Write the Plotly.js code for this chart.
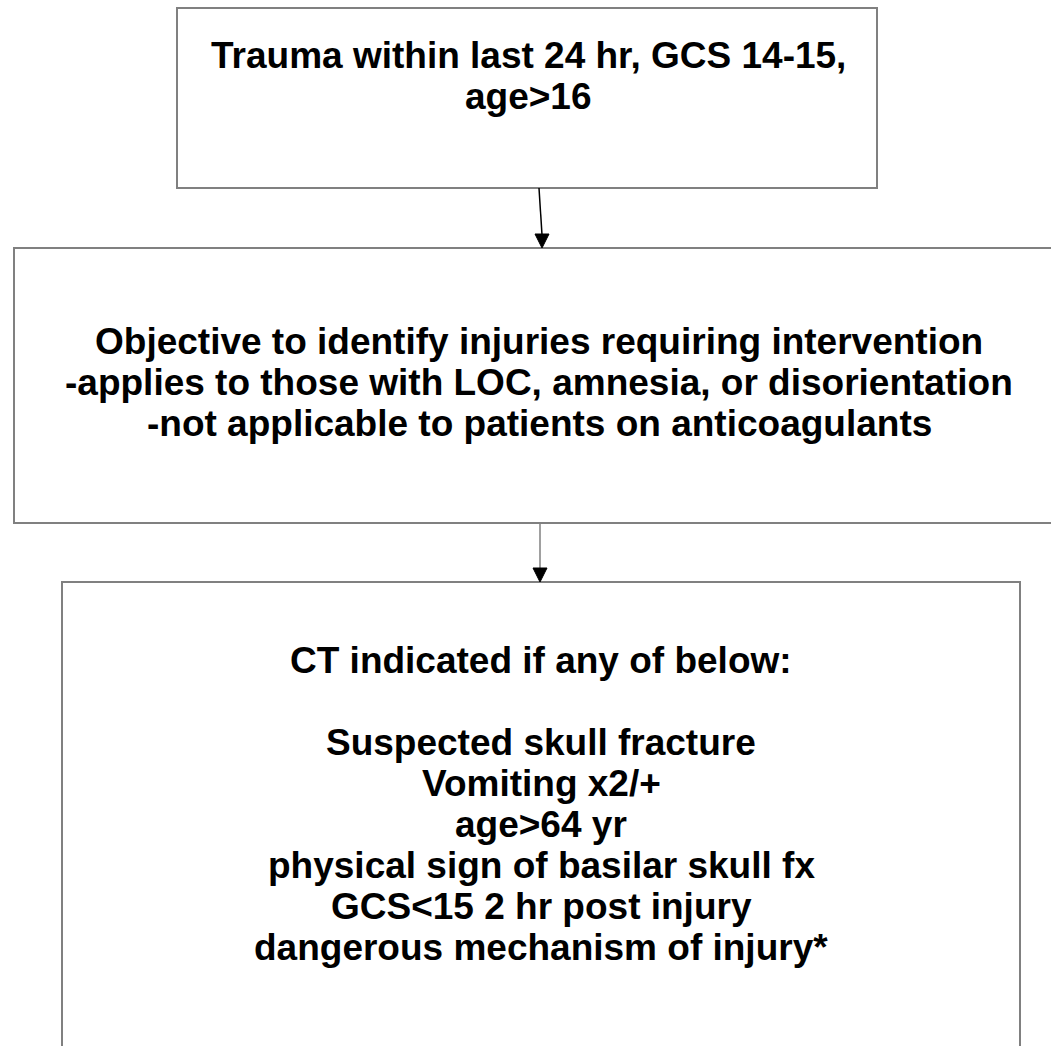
<!DOCTYPE html>
<html><head><meta charset="utf-8">
<script src="https://cdn.plot.ly/plotly-3.0.1.min.js"></script>
<style>html,body{margin:0;padding:0;background:#fff;}#chart{width:1051px;height:1046px;}</style>
</head><body><div id="chart"></div>
<script>
// Flowchart content: text lines of each box
const box1Lines = ["Trauma within last 24 hr, GCS 14-15,", "age&gt;16"];
const box2Lines = ["Objective to identify injuries requiring intervention",
  "-applies to those with LOC, amnesia, or disorientation",
  "-not applicable to patients on anticoagulants"];
const box3Lines = ["CT indicated if any of below:", "", "Suspected skull fracture", "Vomiting x2/+",
  "age&gt;64 yr", "physical sign of basilar skull fx", "GCS&lt;15 2 hr post injury",
  "dangerous mechanism of injury*"];
const boxLines = [box1Lines, box2Lines, box3Lines];

// layout geometry (page pixels)
const boxes = [[177, 8, 877, 188], [14, 248, 1062, 523], [62, 582, 1020, 1062]];
const textCenterX = [528, 539, 541];
const firstLineY = [55, 341, 660];
const lineStep = [41, 41, 41.1];
const arrows = [[539, 188, 542, 248, "#000000"], [540, 523, 540, 582, "#808080"]];

const shapes = [];
boxes.forEach(b => shapes.push({type:'rect', xref:'x', yref:'y', x0:b[0], y0:b[1], x1:b[2], y1:b[3],
  line:{color:'#808080', width:2}, fillcolor:'rgba(0,0,0,0)'}));
const headLen = 14, headHalf = 7;
arrows.forEach(a => {
  const [x0,y0,x1,y1,c] = a;
  shapes.push({type:'line', xref:'x', yref:'y', x0:x0, y0:y0, x1:x1, y1:y1 - headLen + 1, line:{color:c, width:1.5}});
  shapes.push({type:'path', xref:'x', yref:'y',
    path:`M ${x1-headHalf},${y1-headLen} L ${x1+headHalf},${y1-headLen} L ${x1},${y1} Z`,
    fillcolor:'#000', line:{color:'#000', width:1}});
});

const annotations = [];
boxLines.forEach((lines, i) => {
  lines.forEach((t, j) => {
    if (!t) return;
    annotations.push({x: textCenterX[i], y: firstLineY[i] + j * lineStep[i], xref:'x', yref:'y',
      text:'<b>' + t + '</b>', showarrow:false, xanchor:'center', yanchor:'middle', align:'center',
      font:{family:'Liberation Sans, Arial, sans-serif', size:37, color:'#000'}});
  });
});

const layout = {
  width:1051, height:1046, margin:{l:0,r:0,t:0,b:0},
  paper_bgcolor:'#fff', plot_bgcolor:'#fff',
  xaxis:{range:[0,1051], visible:false, fixedrange:true},
  yaxis:{range:[1046,0], visible:false, fixedrange:true},
  shapes: shapes, annotations: annotations, showlegend:false
};
Plotly.newPlot('chart', [], layout, {staticPlot:true, displayModeBar:false});
</script></body></html>
